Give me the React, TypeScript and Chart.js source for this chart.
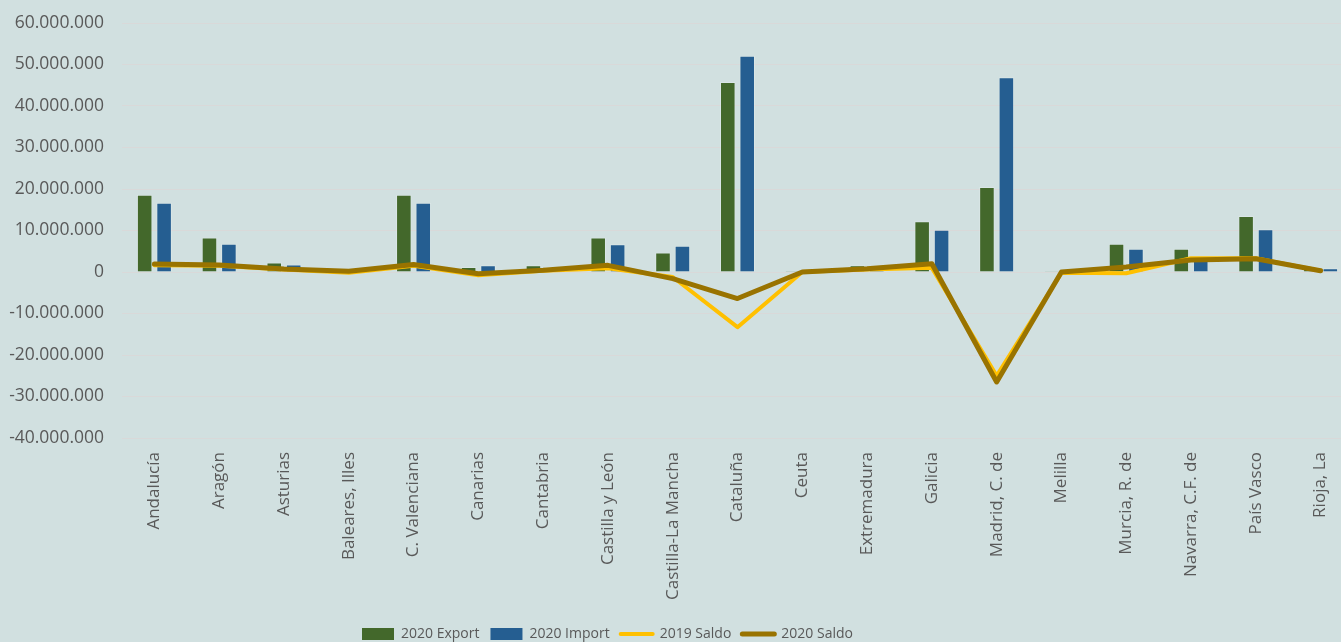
import React, { useEffect, useRef } from 'react';
import { Chart, registerables } from 'chart.js';

Chart.register(...registerables);

const categories = [
  'Andalucía', 'Aragón', 'Asturias', 'Baleares, Illes', 'C. Valenciana', 'Canarias', 'Cantabria',
  'Castilla y León', 'Castilla-La Mancha', 'Cataluña', 'Ceuta', 'Extremadura', 'Galicia',
  'Madrid, C. de', 'Melilla', 'Murcia, R. de', 'Navarra, C.F. de', 'País Vasco', 'Rioja, La',
];

const export2020 = [
  18600000, 8300000, 2300000, 500000, 18600000, 1200000, 1600000,
  8300000, 4700000, 45800000, 300000, 1600000, 12200000,
  20500000, 200000, 6800000, 5600000, 13500000, 1200000,
];

const import2020 = [
  16700000, 6800000, 1800000, 400000, 16700000, 1600000, 1200000,
  6700000, 6300000, 52100000, 200000, 800000, 10200000,
  46900000, 150000, 5600000, 2700000, 10300000, 900000,
];

const saldo2019 = [
  1600000, 1500000, 600000, -200000, 1500000, -800000, 300000,
  900000, -1200000, -13300000, 0, 600000, 1000000,
  -25000000, -200000, -300000, 3300000, 3300000, 300000,
];

const saldo2020 = [
  1900000, 1700000, 700000, 200000, 1800000, -400000, 400000,
  1600000, -1600000, -6400000, 0, 800000, 2000000,
  -26500000, 0, 1200000, 2900000, 3200000, 300000,
];

const yMin = -40000000;
const yMax = 60000000;
const yStep = 10000000;

const BG = '#D1E0E0';
const TEXT = '#595959';
const GRID = '#D9D9D9';
const GREEN = '#43682B';
const BLUE = '#255E91';
const YELLOW = '#FFC000';
const BROWN = '#997300';
const FONT = "'Open Sans', sans-serif";

function fmt(v: number): string {
  const s = Math.abs(Math.round(v)).toString().replace(/\B(?=(\d{3})+(?!\d))/g, '.');
  return (v < 0 ? '-' : '') + s;
}

export default function App() {
  const ref = useRef<HTMLCanvasElement>(null);

  useEffect(() => {
    if (!ref.current) return;
    const legendShift = {
      id: 'legendShift',
      afterLayout(chart: any) {
        const lg = chart.legend;
        if (!lg || !lg.lineWidths) return;
        const pad = lg.options.labels.padding;
        const lw = lg.lineWidths[0];
        const curStart = (lg.left + pad + lg.right - lw) / 2;
        const dx = 362 - curStart;
        lg.left += dx;
        lg.right += dx;
        const fs = lg.options.labels.font.size;
        const dy = 634 - (lg.top + pad + fs / 2);
        lg.top += dy;
        lg.bottom += dy;
      },
    };

    const chart = new Chart(ref.current, {
      type: 'bar',
      data: {
        labels: categories,
        datasets: [
          {
            type: 'bar',
            label: '2020 Export',
            data: export2020,
            backgroundColor: GREEN,
            borderColor: 'rgba(255,255,255,0.2)',
            borderWidth: 1,
            categoryPercentage: 0.6,
            barPercentage: 0.8,
            order: 3,
          },
          {
            type: 'bar',
            label: '2020 Import',
            data: import2020,
            backgroundColor: BLUE,
            borderColor: 'rgba(255,255,255,0.2)',
            borderWidth: 1,
            categoryPercentage: 0.6,
            barPercentage: 0.8,
            order: 3,
          },
          {
            type: 'line',
            label: '2019 Saldo',
            data: saldo2019,
            borderColor: YELLOW,
            backgroundColor: YELLOW,
            borderWidth: 4,
            pointRadius: 0,
            tension: 0,
            borderJoinStyle: 'round',
            borderCapStyle: 'round',
            order: 2,
          },
          {
            type: 'line',
            label: '2020 Saldo',
            data: saldo2020,
            borderColor: BROWN,
            backgroundColor: BROWN,
            borderWidth: 5,
            pointRadius: 0,
            tension: 0,
            borderJoinStyle: 'round',
            borderCapStyle: 'round',
            order: 1,
          },
        ] as any,
      },
      options: {
        responsive: false,
        animation: false,
        devicePixelRatio: 1,
        layout: { padding: { top: 23, left: 0, right: 0, bottom: 0 } },
        plugins: {
          tooltip: { enabled: false },
          legend: {
            position: 'bottom',
            align: 'center',
            labels: {
              usePointStyle: true,
              pointStyleWidth: 32,
              boxHeight: 12,
              padding: 11,
              color: TEXT,
              font: { family: FONT, size: 14 },
              generateLabels: (c: any) =>
                c.data.datasets.map((ds: any, i: number) => ({
                  text: ds.label,
                  fillStyle: ds.type === 'line' ? ds.borderColor : ds.backgroundColor,
                  strokeStyle: ds.type === 'line' ? ds.borderColor : ds.backgroundColor,
                  lineWidth: ds.type === 'line' ? ds.borderWidth : 0,
                  lineCap: 'round',
                  pointStyle: ds.type === 'line' ? 'line' : 'rect',
                  hidden: false,
                  datasetIndex: i,
                  fontColor: TEXT,
                })),
            },
          },
        },
        scales: {
          x: {
            grid: { display: false, drawTicks: false },
            border: { display: false },
            ticks: {
              autoSkip: false,
              maxRotation: 90,
              minRotation: 90,
              padding: 14,
              color: TEXT,
              font: { family: FONT, size: 17 },
            },
            afterFit: (s: any) => {
              const lh = s.chart.legend ? s.chart.legend.height : 0;
              s.height = 642 - lh - 438;
              s.paddingLeft = 0;
              s.paddingRight = 0;
            },
          },
          y: {
            min: yMin,
            max: yMax,
            grid: { color: GRID, lineWidth: 1, drawTicks: false },
            border: { display: false },
            ticks: {
              stepSize: yStep,
              padding: 18,
              color: TEXT,
              font: { family: FONT, size: 17.5 },
              callback: (v: any) => fmt(Number(v)),
            },
            afterFit: (s: any) => {
              s.width = 122;
              s.paddingTop = 0;
              s.paddingBottom = 0;
            },
          },
        },
      } as any,
      plugins: [legendShift],
    });
    return () => chart.destroy();
  }, []);

  return (
    <div
      style={{
        position: 'absolute',
        left: 0,
        top: 0,
        width: 1341,
        height: 642,
        overflow: 'hidden',
        background: BG,
      }}
    >
      <canvas ref={ref} width={1353} height={642} style={{ display: 'block' }} />
    </div>
  );
}
